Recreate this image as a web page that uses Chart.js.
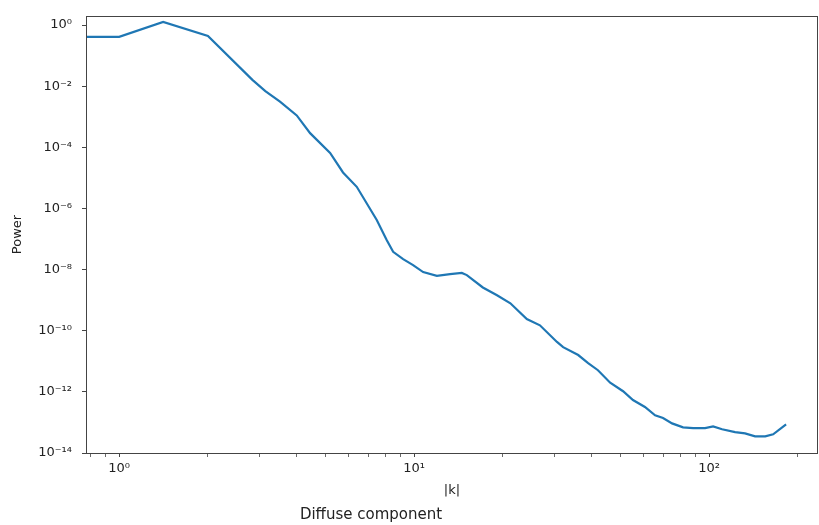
<!DOCTYPE html>
<html>
<head>
<meta charset="utf-8">
<script src="https://cdn.jsdelivr.net/npm/chart.js@4"></script>
<style>
  body { margin: 0; background: #fff; }
  canvas { display: block; }
</style>
</head>
<body>
<canvas id="powerChart" width="819" height="525"></canvas>
<script>
// |k| values and the diffuse power
const kValues = [0.77, 1.0, 1.41, 2.0, 2.83, 3.13, 3.51, 4.0, 4.44, 5.19, 5.74, 6.39,
  7.47, 8.08, 8.49, 9.18, 9.92, 10.73, 11.94, 13.24, 14.51, 15.09, 17.1, 19.1, 21.2,
  24.1, 26.7, 30.5, 32.0, 36.0, 38.9, 42.0, 46.2, 51.1, 55.2, 60.6, 65.6, 69.8, 74.9,
  81.6, 88.3, 96.9, 103.2, 110.7, 122.5, 132.4, 143.2, 155, 164.9, 182.4];
const powerValues = [0.41, 0.41, 1.26, 0.44, 1.6e-2, 6.9e-3, 3.1e-3, 1.1e-3, 2.9e-4, 6.5e-5,
  1.5e-5, 5.1e-6, 4.2e-7, 9.1e-8, 3.8e-8, 2.2e-8, 1.4e-8, 8.3e-9, 6.2e-9, 7.1e-9, 7.8e-9,
  6.6e-9, 2.6e-9, 1.45e-9, 7.9e-10, 2.4e-10, 1.5e-10, 4.3e-11, 2.9e-11, 1.6e-11, 8.7e-12,
  5.1e-12, 2.0e-12, 1.05e-12, 5.4e-13, 3.2e-13, 1.7e-13, 1.4e-13, 9.3e-14, 6.9e-14,
  6.5e-14, 6.5e-14, 7.4e-14, 6.0e-14, 4.8e-14, 4.4e-14, 3.5e-14, 3.5e-14, 4.1e-14, 8.7e-14];

const xMajorTicks = [1, 10, 100];
const xMinorTicks = [0.8, 0.9, 2, 3, 4, 5, 6, 7, 8, 9, 20, 30, 40, 50, 60, 70, 80, 90, 200];
const yTicks = [1, 1e-2, 1e-4, 1e-6, 1e-8, 1e-10, 1e-12, 1e-14];

const supers = { "0": "⁰", "1": "¹", "2": "²", "3": "³", "4": "⁴", "5": "⁵",
  "6": "⁶", "7": "⁷", "8": "⁸", "9": "⁹", "-": "⁻" };
function powLabel(v) {
  const e = String(Math.round(Math.log10(v)));
  return "10" + e.split("").map(c => supers[c]).join("");
}

const FONT = "'DejaVu Sans', sans-serif";
const INK = "#222";

// spines on all four sides plus the figure caption underneath
const framePlugin = {
  id: "frame",
  afterDraw(chart) {
    const { ctx, chartArea: a } = chart;
    ctx.save();
    ctx.strokeStyle = "#444";
    ctx.lineWidth = 1;
    ctx.strokeRect(Math.round(a.left) + 0.5, Math.round(a.top) + 0.5,
      Math.round(a.right - a.left) - 1, Math.round(a.bottom - a.top));
    ctx.fillStyle = INK;
    ctx.font = "15px " + FONT;
    ctx.textAlign = "center";
    ctx.textBaseline = "middle";
    ctx.fillText("Diffuse component", 371, 515);
    ctx.restore();
  }
};

new Chart(document.getElementById("powerChart"), {
  type: "line",
  data: {
    datasets: [{
      data: kValues.map((k, i) => ({ x: k, y: powerValues[i] })),
      borderColor: "#1f77b4",
      borderWidth: 2.2,
      pointRadius: 0,
      fill: false,
      tension: 0
    }]
  },
  options: {
    responsive: false,
    animation: false,
    layout: { padding: { left: 4, right: 1, top: 16, bottom: 24 } },
    plugins: { legend: { display: false }, tooltip: { enabled: false } },
    scales: {
      x: {
        type: "logarithmic",
        min: 0.772,
        max: 234,
        afterBuildTicks(scale) {
          scale.ticks = xMajorTicks.concat(xMinorTicks).sort((a, b) => a - b).map(v => ({ value: v }));
        },
        afterFit(scale) {
          scale.height = 525 - 24 - 453;
          scale.paddingLeft = 0;
          scale.paddingRight = 0;
        },
        border: { display: false },
        grid: { drawOnChartArea: false, tickLength: 4, color: "#444",
          tickWidth: c => (xMajorTicks.includes(c.tick && c.tick.value) ? 1 : 0.8) },
        ticks: {
          autoSkip: false, maxRotation: 0, padding: 4, color: INK,
          font: { family: FONT, size: 13 },
          callback: v => (xMajorTicks.includes(v) ? powLabel(v) : "")
        },
        title: { display: true, text: "|k|", color: INK, font: { family: FONT, size: 13 },
          padding: { top: 0, bottom: 3 } }
      },
      y: {
        type: "logarithmic",
        min: 1e-14,
        max: 1.97,
        afterBuildTicks(scale) { scale.ticks = yTicks.map(v => ({ value: v })); },
        afterFit(scale) {
          scale.width = 86 - 4;
          scale.paddingTop = 0;
          scale.paddingBottom = 0;
        },
        border: { display: false },
        grid: { drawOnChartArea: false, tickLength: 4, color: "#444" },
        ticks: {
          autoSkip: false, padding: 10, color: INK,
          font: { family: FONT, size: 13 },
          callback: v => powLabel(v)
        },
        title: { display: true, text: "Power", color: INK, font: { family: FONT, size: 13 },
          padding: { top: 6, bottom: 0 } }
      }
    }
  },
  plugins: [framePlugin]
});
</script>
</body>
</html>
